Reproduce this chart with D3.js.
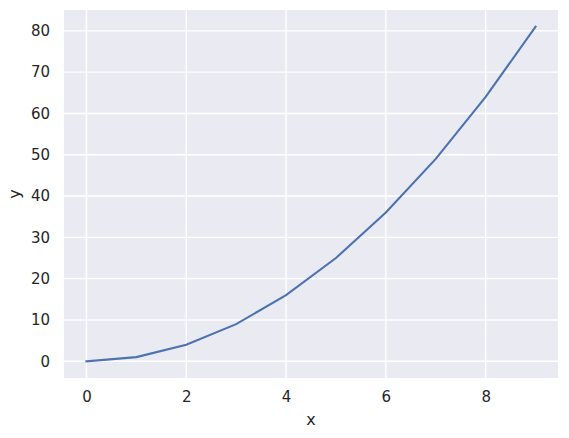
<!DOCTYPE html>
<html>
<head>
<meta charset="UTF-8">
<script src="https://d3js.org/d3.v7.min.js"></script>
<style>
  body { margin: 0; background: #fff; }
  text { font-family: "DejaVu Sans", sans-serif; fill: #262626; }
</style>
</head>
<body>
<div id="chart"></div>
<script>
const xs = [0, 1, 2, 3, 4, 5, 6, 7, 8, 9];
const ys = [0, 1, 4, 9, 16, 25, 36, 49, 64, 81];
const xTicks = [0, 2, 4, 6, 8];
const yTicks = [0, 10, 20, 30, 40, 50, 60, 70, 80];

const W = 569, H = 438;
const margin = { top: 10, right: 11, bottom: 60, left: 64 };
const width = W - margin.left - margin.right;
const height = H - margin.top - margin.bottom;

const svg = d3.select("#chart").append("svg")
  .attr("width", W).attr("height", H);

const g = svg.append("g")
  .attr("transform", `translate(${margin.left},${margin.top})`);

const x = d3.scaleLinear().domain([-0.45, 9.45]).range([0, width]);
const y = d3.scaleLinear().domain([-4.05, 85.05]).range([height, 0]);

g.append("rect")
  .attr("width", width).attr("height", height)
  .attr("fill", "#eaeaf2");

// grid
g.append("g").selectAll("line").data(xTicks).enter().append("line")
  .attr("x1", d => x(d)).attr("x2", d => x(d))
  .attr("y1", 0).attr("y2", height)
  .attr("stroke", "#fff").attr("stroke-width", 1.4);
g.append("g").selectAll("line").data(yTicks).enter().append("line")
  .attr("y1", d => y(d)).attr("y2", d => y(d))
  .attr("x1", 0).attr("x2", width)
  .attr("stroke", "#fff").attr("stroke-width", 1.4);

// axes (no tick marks, like seaborn darkgrid)
const xAxis = g.append("g")
  .attr("transform", `translate(0,${height})`)
  .call(d3.axisBottom(x).tickValues(xTicks).tickSize(0).tickPadding(13));
const yAxis = g.append("g")
  .call(d3.axisLeft(y).tickValues(yTicks).tickSize(0).tickPadding(14));
[xAxis, yAxis].forEach(a => {
  a.select(".domain").remove();
  a.selectAll("text").style("font-size", "15px")
    .style("font-family", "'DejaVu Sans', sans-serif").attr("fill", "#262626");
});

const line = d3.line().x((d, i) => x(xs[i])).y(d => y(d));
g.append("path")
  .datum(ys)
  .attr("d", line)
  .attr("fill", "none")
  .attr("stroke", "#4c72b0")
  .attr("stroke-width", 2.1)
  .attr("stroke-linecap", "square");

svg.append("text")
  .attr("x", margin.left + width / 2).attr("y", 425)
  .attr("text-anchor", "middle")
  .style("font-size", "16px")
  .text("x");
svg.append("text")
  .attr("transform", `translate(20,${margin.top + height / 2}) rotate(-90)`)
  .attr("text-anchor", "middle")
  .style("font-size", "16px")
  .text("y");
</script>
</body>
</html>
